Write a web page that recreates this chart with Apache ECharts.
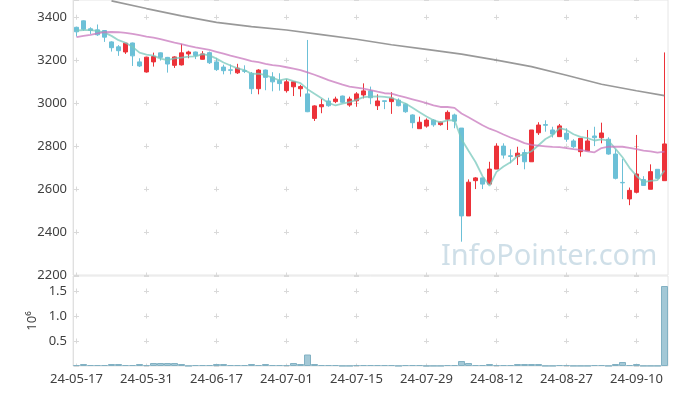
<!DOCTYPE html>
<html><head><meta charset="utf-8">
<script src="https://cdn.jsdelivr.net/npm/echarts@6/dist/echarts.min.js"></script>
<style>html,body{margin:0;padding:0;background:#fff}#c{width:677px;height:396px}</style>
</head><body><div id="c"></div><script>
const dates = ['24-05-17','24-05-20','24-05-21','24-05-22','24-05-23','24-05-24','24-05-27','24-05-28','24-05-29','24-05-30',
'24-05-31','24-06-03','24-06-04','24-06-05','24-06-07','24-06-10','24-06-11','24-06-12','24-06-13','24-06-14',
'24-06-17','24-06-18','24-06-19','24-06-20','24-06-21','24-06-24','24-06-25','24-06-26','24-06-27','24-06-28',
'24-07-01','24-07-02','24-07-03','24-07-04','24-07-05','24-07-08','24-07-09','24-07-10','24-07-11','24-07-12',
'24-07-15','24-07-16','24-07-17','24-07-18','24-07-19','24-07-22','24-07-23','24-07-24','24-07-25','24-07-26',
'24-07-29','24-07-30','24-07-31','24-08-01','24-08-02','24-08-05','24-08-06','24-08-07','24-08-08','24-08-09',
'24-08-12','24-08-13','24-08-14','24-08-16','24-08-19','24-08-20','24-08-21','24-08-22','24-08-23','24-08-26',
'24-08-27','24-08-28','24-08-29','24-08-30','24-09-02','24-09-03','24-09-04','24-09-05','24-09-06','24-09-09',
'24-09-10','24-09-11','24-09-12','24-09-13','24-09-19'];

const openP = [3353,3383,3346,3341,3338,3285,3262,3238,3280,3192,
3145,3192,3234,3213,3176,3178,3229,3238,3204,3235,
3192,3168,3155,3141,3151,3139,3067,3154,3122,3105,
3058,3076,3067,3043,2929,2983,3010,3007,3033,2991,
3011,3038,3057,2988,3011,3007,3014,2995,2945,2881,
2893,2921,2900,2925,2945,2884,2475,2639,2652,2623,
2693,2800,2755,2751,2770,2727,2862,2900,2875,2844,
2860,2824,2774,2778,2847,2839,2832,2763,2631,2554,
2585,2644,2599,2692,2639];

const closeP = [3332,3344,3338,3318,3307,3258,3244,3279,3220,3173,
3214,3217,3213,3182,3215,3234,3238,3222,3229,3188,
3156,3151,3153,3163,3148,3067,3154,3120,3099,3091,
3099,3099,3077,2960,2987,2993,2988,3019,3004,3019,
3043,3057,3025,3010,3008,3023,2988,2960,2909,2911,
2921,2899,2911,2957,2916,2475,2632,2652,2623,2693,
2800,2758,2752,2767,2727,2875,2898,2897,2856,2894,
2832,2797,2836,2824,2839,2861,2763,2650,2629,2594,
2670,2617,2681,2650,2810];

const highP = [3356,3385,3353,3366,3340,3288,3270,3280,3282,3209,
3216,3235,3236,3215,3218,3276,3244,3240,3242,3240,
3208,3179,3180,3183,3176,3145,3158,3156,3144,3139,
3111,3102,3085,3294,2990,3019,3025,3030,3035,3030,
3051,3092,3077,3041,3011,3051,3022,3000,2948,2937,
2929,2925,2914,2966,2951,2884,2645,2656,2652,2727,
2813,2813,2785,2797,2785,2875,2911,2920,2890,2903,
2883,2832,2836,2875,2890,2909,2841,2785,2740,2607,
2852,2660,2715,2692,3236];

const lowP = [3310,3337,3322,3313,3285,3240,3220,3229,3173,3168,
3142,3170,3198,3142,3164,3175,3209,3205,3203,3182,
3150,3134,3134,3136,3140,3042,3041,3060,3055,3058,
3049,3033,3030,2958,2917,2953,2983,3000,3000,2983,
2983,3022,2995,2968,2972,2950,2985,2955,2883,2881,
2886,2890,2895,2875,2883,2355,2475,2600,2600,2623,
2693,2742,2720,2712,2692,2727,2852,2867,2840,2844,
2820,2790,2751,2778,2800,2813,2760,2645,2553,2525,
2580,2615,2599,2650,2639];

// volume in millions of shares
const volume = [0.02,0.04,0.02,0.02,0.02,0.04,0.04,0.02,0.02,0.04,
0.02,0.06,0.06,0.06,0.06,0.04,0.005,0.02,0.02,0.02,
0.04,0.04,0.02,0.02,0.02,0.04,0.02,0.04,0.02,0.02,
0.02,0.06,0.04,0.23,0.04,0.02,0.02,0.02,0.005,0.005,
0.02,0.02,0.02,0.02,0.02,0.02,0.005,0.02,0.02,0.02,
0.005,0.005,0.005,0.02,0.02,0.10,0.06,0.02,0.02,0.04,
0.02,0.02,0.02,0.04,0.04,0.04,0.04,0.005,0.005,0.02,
0.02,0.005,0.005,0.005,0.02,0.02,0.005,0.04,0.08,0.02,
0.04,0.005,0.005,0.005,1.6];

const ma5 = [3338,3340,3340,3336,3328,3313,3293,3281,3262,3235,
3226,3221,3207,3200,3208,3212,3216,3218,3228,3222,
3207,3189,3175,3162,3154,3136,3137,3130,3118,3106,
3113,3102,3093,3065,3044,3023,3001,2989,2998,3005,
3015,3028,3030,3031,3029,3025,3011,2998,2978,2958,
2938,2920,2910,2920,2921,2832,2778,2726,2660,2615,
2680,2705,2725,2754,2761,2776,2804,2833,2851,2884,
2875,2855,2843,2837,2826,2831,2825,2787,2748,2699,
2661,2632,2638,2642,2686];

const ma20 = [3307,3313,3318,3325,3330,3331,3330,3327,3322,3316,
3310,3305,3298,3290,3282,3275,3267,3260,3254,3248,
3239,3230,3221,3213,3205,3195,3191,3183,3177,3173,
3167,3161,3154,3143,3132,3120,3107,3097,3086,3077,
3072,3067,3061,3053,3046,3044,3035,3027,3018,3009,
3000,2990,2982,2982,2978,2952,2934,2916,2897,2881,
2869,2854,2840,2828,2814,2806,2802,2799,2796,2795,
2791,2786,2782,2775,2771,2791,2797,2797,2797,2792,
2786,2779,2775,2770,2774];

// long moving average, read where visible
const maLongIdx = [5,10,15,20,25,30,35,40,45,50,55,60,65,70,75,80,84];
const maLongVal = [3476,3440,3406,3376,3356,3340,3319,3297,3272,3250,3228,3200,3170,3130,3088,3058,3035];

const yTicksPrice = {min: 2200, max: 3480, interval: 200};
const yTicksVol = {min: 0, max: 1.8, interval: 0.5};

const UP = '#ec3239', DOWN = '#6cc0d7';
const GRIDC = '#d9d9d9';
const FONT = 'Noto Sans';

const ohlc = dates.map((d, i) => [openP[i], closeP[i], lowP[i], highP[i]]);
const maLongData = maLongIdx.map((k, j) => [dates[k], maLongVal[j]]);

const chart = echarts.init(document.getElementById('c'), null, {renderer: 'canvas'});
chart.setOption({
  animation: false,
  backgroundColor: '#fff',
  textStyle: {fontFamily: FONT},
  grid: [
    {left: 73, right: 9, top: 0, height: 275, show: true, borderColor: '#e6e6e6', borderWidth: 1},
    {left: 73, right: 9, top: 276, height: 90, show: true, borderColor: '#e6e6e6', borderWidth: 1}
  ],
  xAxis: [
    {type: 'category', gridIndex: 0, data: dates, boundaryGap: true,
     axisLine: {show: false}, axisTick: {show: false}, axisLabel: {show: false},
     splitLine: {show: true, interval: 9, alignWithLabel: true,
       lineStyle: {color: GRIDC, width: 1, type: [5, 37.97], dashOffset: 28.28}}},
    {type: 'category', gridIndex: 1, data: dates, boundaryGap: true,
     axisLine: {show: false}, axisTick: {show: false},
     axisLabel: {interval: 9, fontSize: 13, color: '#404040', margin: 7, fontFamily: FONT},
     splitLine: {show: true, interval: 9, alignWithLabel: true,
       lineStyle: {color: GRIDC, width: 1, type: [5, 20], dashOffset: 12.5}}}
  ],
  yAxis: [
    {type: 'value', gridIndex: 0, min: yTicksPrice.min, max: yTicksPrice.max, interval: yTicksPrice.interval,
     axisLine: {show: true, lineStyle: {color: '#e0e0e0'}}, axisTick: {show: false},
     axisLabel: {showMaxLabel: false, fontSize: 13, color: '#404040', margin: 6, fontFamily: FONT,
       formatter: v => String(v)},
     splitLine: {show: true, lineStyle: {color: GRIDC, width: 1, type: [5, 65], dashOffset: 69}}},
    {type: 'value', gridIndex: 1, min: yTicksVol.min, max: yTicksVol.max, interval: yTicksVol.interval,
     name: '10\u2076', nameLocation: 'middle', nameRotate: 90, nameGap: 34, nameMoveOverlap: false,
     nameTextStyle: {fontSize: 13, color: '#404040', fontFamily: FONT},
     axisLine: {show: true, lineStyle: {color: '#e0e0e0'}}, axisTick: {show: false},
     axisLabel: {showMaxLabel: false, showMinLabel: false, fontSize: 13, color: '#404040', margin: 6,
       fontFamily: FONT, formatter: v => v.toFixed(1)},
     splitLine: {show: true, lineStyle: {color: GRIDC, width: 1, type: [5, 65], dashOffset: 69}}}
  ],
  graphic: [{
    type: 'text', left: 441, top: 242, z: 1, silent: true,
    style: {text: 'InfoPointer.com', font: '29px "Noto Sans"', fill: 'rgba(160,192,210,0.5)'}
  }],
  series: [
    {type: 'candlestick', name: 'price', xAxisIndex: 0, yAxisIndex: 0, data: ohlc, barWidth: 5, z: 3,
     itemStyle: {color: UP, color0: DOWN, borderColor: UP, borderColor0: DOWN, borderWidth: 1}},
    {type: 'line', name: 'MA5', xAxisIndex: 0, yAxisIndex: 0, data: ma5, symbol: 'none', z: 4,
     lineStyle: {color: 'rgba(120,200,188,0.75)', width: 1.8}},
    {type: 'line', name: 'MA20', xAxisIndex: 0, yAxisIndex: 0, data: ma20, symbol: 'none', z: 4,
     lineStyle: {color: 'rgba(200,120,190,0.75)', width: 1.8}},
    {type: 'line', name: 'MAlong', xAxisIndex: 0, yAxisIndex: 0, data: maLongData, symbol: 'none', z: 4,
     lineStyle: {color: 'rgba(135,135,135,0.85)', width: 1.6}},
    {type: 'bar', name: 'volume', xAxisIndex: 1, yAxisIndex: 1, data: volume, barCategoryGap: '0%',
     itemStyle: {color: '#a3c8d6', borderColor: '#82b1c3', borderWidth: 1}}
  ]
});
</script></body></html>
